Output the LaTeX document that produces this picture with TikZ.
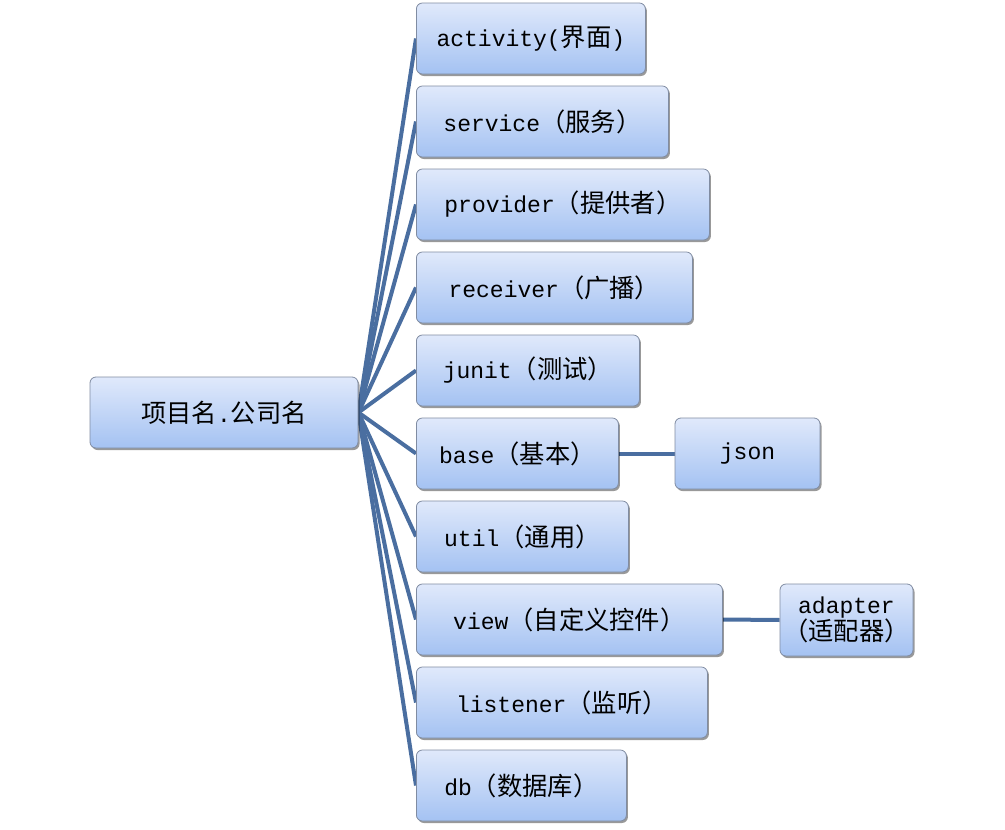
\documentclass[tikz,border=0pt]{standalone}
\usepackage{fontspec}
\setmainfont{Liberation Mono}
\newfontfamily\cjk{Noto Sans CJK SC}[Scale=1.1]
\usetikzlibrary{shadows,backgrounds}

\definecolor{linkblue}{RGB}{74,110,160}
\definecolor{boxtop}{RGB}{224,233,251}
\definecolor{boxbottom}{RGB}{164,194,242}
\definecolor{boxline}{RGB}{128,140,162}

\tikzset{
  box/.style={draw=boxline, line width=0.8pt, rounded corners=6pt,
    top color=boxtop, bottom color=boxbottom,
    minimum height=71pt, inner sep=0pt, align=center,
    font=\fontsize{23}{27}\selectfont,
    drop shadow={shadow xshift=1.5pt, shadow yshift=-2pt, fill=black, opacity=0.4}},
  link/.style={draw=linkblue, line width=4pt}
}

\begin{document}
\begin{tikzpicture}[x=1pt,y=-1pt]
  \useasboundingbox (0,0) rectangle (1005,830);

  % root
  \node[box, minimum width=268pt] (root) at (224,412.5) {{\cjk 项目名}.{\cjk 公司名}};

  % packages
  \foreach \name/\w/\txt [count=\i from 0] in {
      act/229/{activity({\cjk 界面})},
      srv/252/{service{\cjk （服务）}},
      prov/293/{provider{\cjk （提供者）}},
      recv/276/{receiver{\cjk （广播）}},
      junit/223/{junit{\cjk （测试）}},
      base/202/{base{\cjk （基本）}},
      util/212/{util{\cjk （通用）}},
      view/306/{view{\cjk （自定义控件）}},
      lsn/291/{listener{\cjk （监听）}},
      db/210/{db{\cjk （数据库）}}}
    \node[box, minimum width=\w pt, anchor=west] (\name) at (416,38.5+83*\i) {\txt};

  % sub packages
  \node[box, minimum width=145pt] (json) at (747.5,453.5) {json};
  \node[box, minimum width=133pt, minimum height=72pt] (adapter) at (846.5,620) {adapter\\{\cjk （适配器）}};

  % connectors
  \begin{scope}[on background layer]
    \foreach \name in {act,srv,prov,recv,junit,base,util,view,lsn,db}
      \draw[link] (root.east) -- (\name.west);
    \draw[link] (base.east) -- (json.west);
    \draw[link] (view.east) -- (adapter.west);
  \end{scope}
\end{tikzpicture}
\end{document}
